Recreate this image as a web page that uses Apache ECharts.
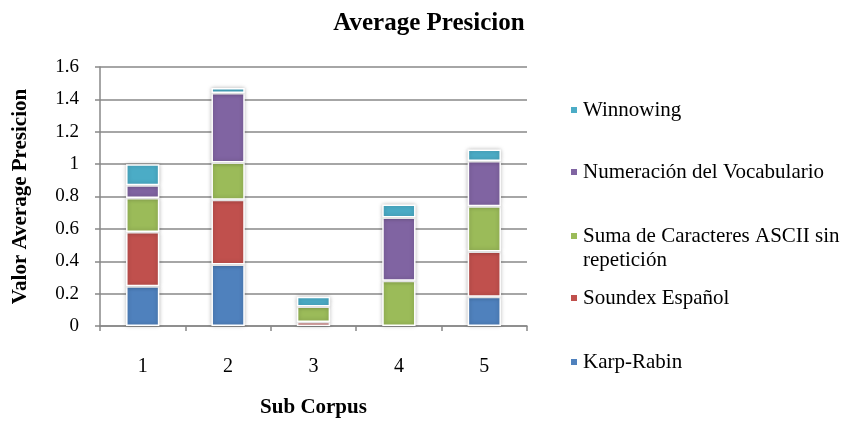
<!DOCTYPE html>
<html>
<head>
<meta charset="utf-8">
<script src="https://cdn.jsdelivr.net/npm/echarts@6/dist/echarts.min.js"></script>
<style>
html,body{margin:0;padding:0;background:#fff;}
#chart{width:846px;height:423px;}
</style>
</head>
<body>
<div id="chart"></div>
<script>
const categories = ['1', '2', '3', '4', '5'];
const karpRabin = [0.245, 0.38, 0, 0, 0.18];
const soundex = [0.335, 0.40, 0.025, 0, 0.28];
const sumaAscii = [0.21, 0.23, 0.095, 0.28, 0.28];
const numeracion = [0.08, 0.43, 0, 0.39, 0.28];
const winnowing = [0.13, 0.03, 0.06, 0.08, 0.07];
const yTicks = { min: 0, max: 1.6, interval: 0.2 };

const seriesNames = ['Karp-Rabin', 'Soundex Español', 'Suma de Caracteres ASCII sin repetición', 'Numeración del Vocabulario', 'Winnowing'];
const seriesData = [karpRabin, soundex, sumaAscii, numeracion, winnowing];
const colors = ['#4F81BD', '#C0504D', '#9BBB59', '#8064A2', '#4BACC6'];

const FONT = "'Liberation Serif', 'Times New Roman', serif";

const legendCenters = { 'Winnowing': 110, 'Numeración del Vocabulario': 172, 'Suma de Caracteres ASCII sin repetición': 236, 'Soundex Español': 298, 'Karp-Rabin': 362 };

const legends = seriesNames.map(function (name) {
  const twoLine = name.indexOf('Suma') === 0;
  return {
    data: [name],
    orient: 'vertical',
    left: 569,
    top: twoLine ? legendCenters[name] - 36 : legendCenters[name] - 12,
    padding: 0,
    icon: 'rect',
    itemWidth: 8,
    itemHeight: 8,
    selectedMode: false,
    formatter: twoLine ? function () { return '\u00a0\nSuma de Caracteres ASCII sin\nrepetición'; } : '{name}',
    textStyle: {
      fontFamily: FONT,
      fontSize: 21,
      color: '#000',
      lineHeight: 24
    }
  };
});

const chart = echarts.init(document.getElementById('chart'), null, { renderer: 'canvas' });
chart.setOption({
  animation: false,
  color: colors,
  title: {
    text: 'Average Presicion',
    left: 424,
    textAlign: 'center',
    top: 6,
    textStyle: { fontFamily: FONT, fontSize: 25, fontWeight: 'bold', color: '#000' }
  },
  legend: legends,
  grid: { left: 100, right: 319, top: 67, bottom: 92, containLabel: false },
  xAxis: {
    type: 'category',
    data: categories,
    name: 'Sub Corpus',
    nameLocation: 'middle',
    nameGap: 71,
    nameTextStyle: { fontFamily: FONT, fontSize: 21, fontWeight: 'bold', color: '#000' },
    axisLine: { lineStyle: { color: '#888', width: 1.5 } },
    axisTick: { show: true, length: 5, inside: false, lineStyle: { color: '#888', width: 1.5 } },
    axisLabel: { fontFamily: FONT, fontSize: 20, color: '#000', margin: 31 }
  },
  yAxis: {
    type: 'value',
    min: yTicks.min,
    max: yTicks.max,
    interval: yTicks.interval,
    name: 'Valor Average Presicion',
    nameLocation: 'middle',
    nameGap: 69,
    nameTextStyle: { fontFamily: FONT, fontSize: 21, fontWeight: 'bold', color: '#000' },
    axisLine: { show: true, lineStyle: { color: '#888', width: 1.5 } },
    axisTick: { show: true, length: 5, inside: false, lineStyle: { color: '#888', width: 1.5 } },
    axisLabel: { fontFamily: FONT, fontSize: 19, color: '#000', margin: 21 },
    splitLine: { show: true, lineStyle: { color: '#888', width: 1.5 } }
  },
  series: seriesNames.map(function (name, i) {
    return {
      name: name,
      type: 'bar',
      stack: 'total',
      barWidth: '39%',
      data: seriesData[i].map(function (v) { return v === 0 ? '-' : v; }),
      itemStyle: {
        color: colors[i],
        borderColor: '#fff',
        borderWidth: 1.5,
        shadowBlur: 4,
        shadowColor: 'rgba(0,0,0,0.25)',
        shadowOffsetX: 0,
        shadowOffsetY: 0
      }
    };
  })
});
</script>
</body>
</html>
